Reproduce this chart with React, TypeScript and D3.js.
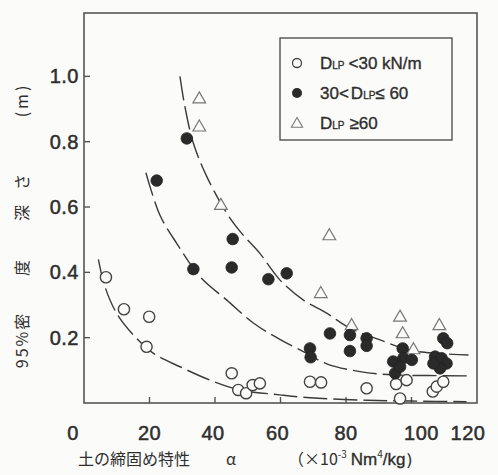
import React from "react";
import { scaleLinear, line, curveCatmullRom, symbol, symbolTriangle } from "d3";

// D_LP < 30 kN/m  (open circles)
const lowX = [6.7, 12.2, 19.9, 19.1, 45.1, 47.1, 49.5, 51.5, 53.7, 69, 72.4, 86.3, 95.3, 98.5, 96.5, 106.5, 107.7, 109.7];
const lowY = [0.385, 0.287, 0.264, 0.172, 0.091, 0.04, 0.03, 0.055, 0.06, 0.065, 0.063, 0.045, 0.058, 0.07, 0.014, 0.035, 0.05, 0.065];

// 30 < D_LP <= 60  (filled circles)
const midX = [31.4, 22.2, 45.4, 33.4, 45.1, 56.3, 61.9, 75.1, 81.2, 81.2, 86.3, 86.3, 69, 69.2, 97.3, 94.4, 95, 97.5, 100.1, 96.5, 109.7, 110.9, 107.2, 109.2, 110.7, 108.7, 106.7];
const midY = [0.81, 0.681, 0.502, 0.41, 0.415, 0.379, 0.397, 0.213, 0.208, 0.159, 0.198, 0.175, 0.167, 0.14, 0.167, 0.127, 0.091, 0.137, 0.132, 0.111, 0.198, 0.183, 0.142, 0.137, 0.121, 0.106, 0.121];

// D_LP >= 60  (triangles)
const highX = [35.2, 35.2, 41.8, 74.9, 72.3, 81.7, 96.5, 97.3, 100.6, 108.5];
const highY = [0.93, 0.844, 0.604, 0.511, 0.334, 0.236, 0.262, 0.211, 0.162, 0.236];

// dashed trend curves
const upperCurveX = [29.3, 30.8, 33.4, 37.5, 43.6, 48.1, 53.7, 59.8, 67, 74.1, 81.2, 90.4, 99.5, 108, 117.4];
const upperCurveY = [1.0, 0.908, 0.795, 0.693, 0.581, 0.52, 0.458, 0.377, 0.315, 0.275, 0.229, 0.193, 0.162, 0.152, 0.147];
const middleCurveX = [18.9, 23.2, 28.3, 35.4, 43.6, 51.7, 59.8, 68, 74.1, 84.3, 94.4, 105, 117.4];
const middleCurveY = [0.705, 0.575, 0.489, 0.387, 0.315, 0.245, 0.195, 0.152, 0.12, 0.096, 0.086, 0.084, 0.083];
const lowerCurveX = [4.4, 6.4, 10, 15.1, 21.2, 29.3, 38.5, 47.6, 59.8, 69, 84.3, 100, 116.8];
const lowerCurveY = [0.44, 0.356, 0.274, 0.208, 0.152, 0.111, 0.07, 0.04, 0.025, 0.016, 0.009, 0.006, 0.004];

const xTicks = [0, 20, 40, 60, 80, 100, 120];
const xTickNudge = [-11, 0, -2, -3, 0, 10, -9];
const yTicks = [0.2, 0.4, 0.6, 0.8, 1.0];

const W = 498;
const H = 475;
const frame = { left: 84, right: 477, top: 13, bottom: 403 };
const ink = "#2e2e2e";
const font = "'Liberation Sans', Arial, sans-serif";
const jpFont = "'Noto Sans CJK JP', sans-serif";

export default function App() {
  const x = scaleLinear().domain([0, 120]).range([frame.left, frame.right]);
  const y = scaleLinear().domain([0, 1.194]).range([frame.bottom, frame.top]);

  const curve = line<number[]>()
    .curve(curveCatmullRom)
    .x((d) => d[0])
    .y((d) => d[1]);
  const toPts = (xs: number[], ys: number[]) => xs.map((v, i) => [x(v), y(ys[i])]);

  const tri = symbol().type(symbolTriangle).size(70)();

  return (
    <svg
      width={W}
      height={H}
      style={{ position: "absolute", left: 0, top: 0, background: "#fbfbfa" }}
    >
      {/* frame */}
      <rect
        x={frame.left}
        y={frame.top}
        width={frame.right - frame.left}
        height={frame.bottom - frame.top}
        fill="none"
        stroke="#555"
        strokeWidth={1.6}
      />

      {/* ticks (inward) */}
      {xTicks.slice(1, -1).map((t) => (
        <line key={"xt" + t} x1={x(t)} x2={x(t)} y1={frame.bottom} y2={frame.bottom - 6} stroke="#555" strokeWidth={1.4} />
      ))}
      {yTicks.map((t) => (
        <line key={"yt" + t} x1={frame.left} x2={frame.left + 6} y1={y(t)} y2={y(t)} stroke="#555" strokeWidth={1.4} />
      ))}

      {/* tick labels */}
      <g fontFamily={font} fontSize={20} fill={ink} stroke={ink} strokeWidth={0.5}>
        {xTicks.map((t, i) => (
          <text key={"xl" + t} x={x(t) + xTickNudge[i]} y={440} textAnchor="middle" letterSpacing={0.5}>
            {t}
          </text>
        ))}
        {yTicks.map((t) => (
          <text key={"yl" + t} x={79} y={y(t) + 7} textAnchor="end" letterSpacing={0.5}>
            {t.toFixed(1)}
          </text>
        ))}
      </g>

      {/* trend curves */}
      {[
        toPts(upperCurveX, upperCurveY),
        toPts(middleCurveX, middleCurveY),
        toPts(lowerCurveX, lowerCurveY),
      ].map((pts, i) => (
        <path
          key={"c" + i}
          d={curve(pts) || ""}
          fill="none"
          stroke="#3a3a3a"
          strokeWidth={1.4}
          strokeDasharray="24 6"
        />
      ))}

      {/* data */}
      {lowX.map((v, i) => (
        <circle key={"lo" + i} cx={x(v)} cy={y(lowY[i])} r={5.6} fill="#fbfbfa" stroke="#444" strokeWidth={1.4} />
      ))}
      {highX.map((v, i) => (
        <path
          key={"hi" + i}
          d={tri || ""}
          transform={`translate(${x(v)},${y(highY[i])})`}
          fill="#fbfbfa"
          stroke="#777"
          strokeWidth={1.2}
        />
      ))}
      {midX.map((v, i) => (
        <circle key={"mi" + i} cx={x(v)} cy={y(midY[i])} r={5.8} fill="#2a2a2a" stroke="#222" strokeWidth={0.8} />
      ))}

      {/* legend */}
      <rect x={280} y={38} width={172} height={102} fill="#fbfbfa" stroke="#444" strokeWidth={1.3} />
      <circle cx={297} cy={63} r={4.5} fill="none" stroke="#444" strokeWidth={1.3} />
      <circle cx={297} cy={93} r={5} fill="#2a2a2a" />
      <path d={symbol().type(symbolTriangle).size(55)() || ""} transform="translate(297,124)" fill="none" stroke="#777" strokeWidth={1.1} />
      <g fontFamily={font} fill={ink} stroke={ink} strokeWidth={0.35}>
        <text x={320} y={69} fontSize={17}>
          D<tspan fontSize={10}>LP</tspan>
          <tspan dx={4}>&lt;30 kN/m</tspan>
        </text>
        <text x={320} y={99} fontSize={17}>
          30&lt;
          <tspan dx={2}>D</tspan>
          <tspan fontSize={10}>LP</tspan>
          <tspan>≤ 60</tspan>
        </text>
        <text x={320} y={129} fontSize={17}>
          D<tspan fontSize={10}>LP</tspan>
          <tspan dx={5}>≥60</tspan>
        </text>
      </g>

      {/* x-axis title */}
      <text x={78} y={465} fontFamily={jpFont} fontSize={16} fill={ink}>
        土の締固め特性
        <tspan x={226}>α</tspan>
        <tspan x={288}>（×10</tspan>
        <tspan fontSize={10} dy={-7}>-3</tspan>
        <tspan dy={7} fontFamily={font} fontSize={17} dx={4} stroke={ink} strokeWidth={0.35}>Nm</tspan>
        <tspan fontSize={10} dy={-7}>4</tspan>
        <tspan dy={7} fontFamily={font} fontSize={17} stroke={ink} strokeWidth={0.35}>/kg）</tspan>
      </text>

      {/* y-axis title, vertical */}
      <g transform="translate(28,0) rotate(-90)" fontFamily={jpFont} fontSize={16} fill={ink}>
        <text x={-340} y={0} textAnchor="middle" letterSpacing={2}>
          95%密
        </text>
        <text x={-268} y={0} textAnchor="middle">度</text>
        <text x={-213} y={0} textAnchor="middle">深</text>
        <text x={-182} y={0} textAnchor="middle">さ</text>
        <text x={-100} y={0} textAnchor="middle" letterSpacing={3}>
          (m)
        </text>
      </g>
    </svg>
  );
}
